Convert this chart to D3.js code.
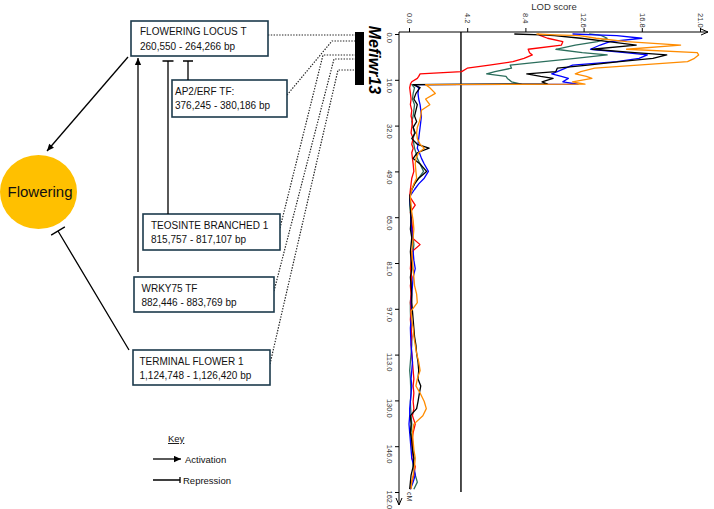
<!DOCTYPE html>
<html>
<head>
<meta charset="utf-8">
<script src="https://cdnjs.cloudflare.com/ajax/libs/d3/7.8.5/d3.min.js"></script>
<style>
    body { margin: 0; background: #fff; }
    svg { font-family: "Liberation Sans", Arial, sans-serif; }
</style>
</head>
<body>
<div id="chart"></div>
<script>

// map positions (cM) shared by all traces
var positions = [0, 0.3, 0.6, 1.5, 2.7, 3.9, 5.4, 6.6, 7.4, 8.6, 9.8, 11.0, 12.1, 13.3, 14.1, 15.0, 15.7, 16.9, 17.7, 17.9,
    19, 21, 23, 25, 27, 29, 31, 33, 35, 37, 39, 40.4, 42, 44, 46, 48.6, 51, 53, 55, 57.5,
    60.5, 63, 66, 69, 72, 74.5, 77, 80, 83, 86, 89, 92, 95, 98, 101, 104, 107, 110, 113, 116,
    119, 122, 124.5, 127, 130, 132.5, 135, 138, 141, 144, 147, 150, 153, 156, 158.5, 161];

var lodRed = [9.3, 9.4, 9.5, 10.0, 11.1, 11.0, 8.6, 8.7, 8.9, 8.3, 7.5, 5.8, 4.2, 3.8, 0.8, 0.7, 0.6, 0.2, 0.1, 0.1,
    0.05, 0.1, 0.15, 0.1, 0.2, 0.15, 0.25, 0.2, 0.15, 0.3, 0.2, 0.3, 0.2, 0.25, 0.3, 0.35, 0.2, 0.15, 0.1, 0.05,
    0.45, 0.1, 0.2, 0.25, 0.2, 0.8, 0.2, 0.15, 0.1, 0.2, 0.1, 0.15, 0.1, 0.15, 0.1, 0.15, 0.2, 0.15, 0.2, 0.25,
    0.3, 0.35, 0.3, 0.35, 0.3, 0.35, 0.25, 0.45, 0.3, 0.2, 0.25, 0.2, 0.45, 0.35, 0.2, 0.1];

var lodGreen = [13.0, 13.6, 13.9, 14.3, 13.6, 12.0, 10.6, 12.5, 14.3, 12.0, 9.7, 7.3, 7.4, 6.2, 5.6, 7.0, 7.1, 7.4, 8.1, 0.2,
    0.4, 0.3, 0.25, 0.4, 0.35, 0.3, 0.2, 0.3, 0.4, 0.3, 0.35, 0.4, 0.5, 0.6, 0.8, 1.05, 0.7, 0.4, 0.2, 0.05,
    0.05, 0.1, 0.15, 0.2, 0.3, 0.35, 0.3, 0.25, 0.2, 0.15, 0.2, 0.15, 0.1, 0.1, 0.12, 0.15, 0.2, 0.2, 0.15, 0.1,
    0.05, 0.1, 0.12, 0.15, 0.1, 0.12, 0.15, 0.2, 0.15, 0.25, 0.3, 0.35, 0.3, 0.45, 0.6, 0.35];

var lodBlack = [7.6, 9.5, 10.5, 12.4, 14.4, 16.4, 13.2, 16.3, 18.6, 17.6, 15.2, 12.9, 10.7, 10.6, 8.5, 9.5, 10.4, 9.6, 10.0, 0.3,
    0.8, 0.5, 0.35, 0.6, 0.5, 0.4, 0.55, 0.3, 0.45, 0.2, 0.6, 1.45, 0.6, 0.3, 0.8, 1.27, 0.7, 0.4, 0.2, 0.05,
    0.1, 0.12, 0.15, 0.1, 0.2, 0.15, 0.1, 0.15, 0.2, 0.1, 0.15, 0.2, 0.2, 0.25, 0.3, 0.35, 0.4, 0.5, 0.55, 0.65,
    0.7, 0.65, 0.85, 0.75, 0.65, 0.55, 0.1, 0.15, 0.1, 0.2, 0.25, 0.35, 0.3, 0.15, 0.1, 0.05];

var lodBlue = [11.8, 13.5, 15.0, 16.8, 14.5, 13.8, 13.1, 15.6, 17.2, 16.6, 15.0, 11.8, 11.3, 10.7, 10.3, 11.0, 11.5, 11.1, 12.2, 0.4,
    0.7, 0.65, 0.7, 0.8, 0.85, 0.9, 0.85, 0.8, 0.75, 0.7, 0.65, 0.6, 0.75, 0.9, 1.1, 1.4, 1.1, 0.7, 0.4, 0.05,
    0.1, 0.15, 0.12, 0.2, 0.25, 0.2, 0.3, 0.35, 0.45, 0.3, 0.25, 0.2, 0.15, 0.2, 0.15, 0.1, 0.12, 0.15, 0.2, 0.25,
    0.2, 0.15, 0.2, 0.15, 0.1, 0.05, 0.05, 0.0, 0.05, 0.1, 0.15, 0.2, 0.35, 0.45, 0.3, 0.1];

var lodOrange = [9.2, 10.5, 12.3, 13.5, 15.7, 19.6, 15.7, 20.8, 20.9, 20.6, 20.1, 16.5, 13.4, 12.4, 12.0, 12.8, 13.2, 11.8, 12.7, 1.2,
    1.5, 1.9, 1.2, 1.5, 0.9, 0.85, 0.75, 0.6, 0.55, 0.6, 0.8, 1.1, 0.7, 0.5, 0.45, 0.5, 0.55, 0.35, 0.2, 0.1,
    0.15, 0.2, 0.3, 0.35, 0.3, 0.25, 0.2, 0.25, 0.3, 0.35, 0.4, 0.55, 0.6, 0.15, 0.2, 0.3, 0.35, 0.45, 0.55, 0.7,
    0.8, 0.6, 0.5, 0.8, 1.1, 1.25, 1.0, 0.35, 0.25, 0.3, 0.35, 0.45, 0.4, 0.3, 0.2, 0.15];

var threshold = 3.75;

var lodTicks = [0, 4.2, 8.4, 12.6, 16.8, 21];
var lodTickLabels = ["0.0", "4.2", "8.4", "12.6", "16.8", "21.0"];
var cmTicks = [0, 16.2, 32.4, 48.6, 64.8, 81, 97.2, 113.4, 129.6, 145.8, 162];
var cmTickLabels = ["0.0", "16.0", "32.0", "49.0", "65.0", "81.0", "97.0", "113.0", "130.0", "146.0", "162.0"];

var geneNames = ["FLOWERING LOCUS T", "AP2/ERF TF:", "TEOSINTE BRANCHED 1", "WRKY75 TF", "TERMINAL FLOWER 1"];
var geneRanges = ["260,550 - 264,266 bp", "376,245 - 380,186 bp", "815,757 - 817,107 bp",
    "882,446 - 883,769 bp", "1,124,748 - 1,126,420 bp"];

var series = [
    {name: "green", color: "#2b6e5c", values: lodGreen},
    {name: "red", color: "#ff0000", values: lodRed},
    {name: "blue", color: "#0000ff", values: lodBlue},
    {name: "black", color: "#000000", values: lodBlack},
    {name: "orange", color: "#ff8c00", values: lodOrange}
];

var svg = d3.select("#chart").append("svg")
    .attr("width", 714)
    .attr("height", 509);

svg.append("rect").attr("width", 714).attr("height", 509).attr("fill", "#fff");

var defs = svg.append("defs");
defs.append("marker")
    .attr("id", "arrow")
    .attr("viewBox", "0 0 10 10")
    .attr("refX", 10)
    .attr("refY", 5)
    .attr("markerWidth", 8)
    .attr("markerHeight", 7)
    .attr("markerUnits", "userSpaceOnUse")
    .attr("orient", "auto")
    .append("path")
    .attr("d", "M0,0.5 L10,5 L0,9.5 Z")
    .attr("fill", "#000");

/*
 * LOD plot (rotated: position down, LOD score across)
 */

var x = d3.scaleLinear().domain([0, 21]).range([409, 700]);
var y = d3.scaleLinear().domain([0, 162]).range([34, 492]);

var axisTopY = 32, axisLeftX = 399;

// axis lines with open arrow heads
svg.append("path")
    .attr("d", "M" + axisLeftX + "," + axisTopY + "H708 M701,29 L708,32 L701,35")
    .attr("fill", "none").attr("stroke", "#000").attr("stroke-width", 1);
svg.append("path")
    .attr("d", "M" + axisLeftX + "," + axisTopY + "V505 M396,498 L399,505 L402,498")
    .attr("fill", "none").attr("stroke", "#000").attr("stroke-width", 1);

var xAxis = d3.axisTop(x)
    .tickValues(lodTicks)
    .tickSize(4)
    .tickFormat(function(d, i) { return lodTickLabels[i]; });

var gx = svg.append("g")
    .attr("class", "axis x-axis")
    .attr("transform", "translate(0," + axisTopY + ")")
    .call(xAxis);
gx.select(".domain").remove();
gx.selectAll("text")
    .attr("x", 0).attr("y", 0).attr("dy", "0.35em")
    .attr("text-anchor", "start")
    .attr("transform", "translate(0,-19) rotate(90)")
    .attr("font-size", 7.5)
    .attr("font-family", "Liberation Sans, Arial, sans-serif")
    .attr("fill", "#333");

var yAxis = d3.axisLeft(y)
    .tickValues(cmTicks)
    .tickSize(4)
    .tickFormat(function(d, i) { return cmTickLabels[i]; });

var gy = svg.append("g")
    .attr("class", "axis y-axis")
    .attr("transform", "translate(" + axisLeftX + ",0)")
    .call(yAxis);
gy.select(".domain").remove();
gy.selectAll("text")
    .attr("x", 0).attr("y", 0).attr("dy", "0.35em")
    .attr("text-anchor", "start")
    .attr("transform", "translate(-9,-2) rotate(90)")
    .attr("font-size", 7.5)
    .attr("font-family", "Liberation Sans, Arial, sans-serif")
    .attr("fill", "#333");

svg.append("text")
    .attr("x", 554).attr("y", 10)
    .attr("text-anchor", "middle")
    .attr("font-size", 9.5)
    .attr("fill", "#333")
    .text("LOD score");

svg.append("text")
    .attr("transform", "translate(409,492) rotate(90)")
    .attr("dy", "0.35em")
    .attr("font-size", 7)
    .attr("fill", "#333")
    .text("cM");

// significance threshold
svg.append("line")
    .attr("x1", x(threshold)).attr("x2", x(threshold))
    .attr("y1", axisTopY).attr("y2", y(162))
    .attr("stroke", "#000").attr("stroke-width", 1.4);

var line = d3.line()
    .x(function(d) { return x(d[1]); })
    .y(function(d) { return y(d[0]); });

svg.selectAll(".trace")
    .data(series)
    .enter()
    .append("path")
    .attr("class", "trace")
    .attr("fill", "none")
    .attr("stroke", function(d) { return d.color; })
    .attr("stroke-width", 1.3)
    .attr("stroke-linejoin", "round")
    .attr("d", function(d) {
        return line(positions.map(function(p, i) { return [p, d.values[i]]; }));
    });

// QTL bar and label
svg.append("rect")
    .attr("x", 355).attr("y", 32)
    .attr("width", 9).attr("height", 53)
    .attr("fill", "#000");

svg.append("text")
    .attr("transform", "translate(375,60) rotate(90)")
    .attr("text-anchor", "middle")
    .attr("dy", "0.35em")
    .attr("font-size", 16)
    .attr("font-weight", "bold")
    .attr("font-style", "italic")
    .text("Mefiwr13");

/*
 * Gene boxes and regulation diagram
 */

var boxes = [
    {x: 131, y: 21, w: 137, h: 35, tx: 140, l1: 35, l2: 50},
    {x: 172, y: 80, w: 115, h: 37, tx: 175, l1: 95, l2: 109},
    {x: 143, y: 214, w: 137, h: 36, tx: 151, l1: 228.5, l2: 243},
    {x: 134, y: 277, w: 140, h: 35, tx: 141.5, l1: 292, l2: 305.5},
    {x: 133, y: 350, w: 137, h: 35, tx: 139.5, l1: 364.5, l2: 378.5}
];

// dotted links from genes to the QTL bar
var links = [
    [[268, 35], [355, 35]],
    [[287, 95], [332, 41], [355, 41]],
    [[280, 228], [323, 55], [355, 55]],
    [[274, 291], [334, 59], [355, 59]],
    [[270, 364], [338, 70], [355, 70]]
];

svg.selectAll(".link")
    .data(links)
    .enter()
    .append("path")
    .attr("class", "link")
    .attr("d", d3.line())
    .attr("fill", "none")
    .attr("stroke", "#222")
    .attr("stroke-width", 1.2)
    .attr("stroke-dasharray", "1.4,1.4");

var box = svg.selectAll(".gene")
    .data(boxes)
    .enter()
    .append("g")
    .attr("class", "gene");

box.append("rect")
    .attr("x", function(d) { return d.x; })
    .attr("y", function(d) { return d.y; })
    .attr("width", function(d) { return d.w; })
    .attr("height", function(d) { return d.h; })
    .attr("fill", "#fff")
    .attr("stroke", "#1c3a4c")
    .attr("stroke-width", 1.6);

box.append("text")
    .attr("x", function(d) { return d.tx; })
    .attr("y", function(d) { return d.l1; })
    .attr("font-size", 10)
    .attr("fill", "#111")
    .text(function(d, i) { return geneNames[i]; });

box.append("text")
    .attr("x", function(d) { return d.tx; })
    .attr("y", function(d) { return d.l2; })
    .attr("font-size", 10)
    .attr("fill", "#111")
    .text(function(d, i) { return geneRanges[i]; });

// Flowering node
svg.append("ellipse")
    .attr("cx", 38.5).attr("cy", 192)
    .attr("rx", 38.5).attr("ry", 37)
    .attr("fill", "#ffc000");

svg.append("text")
    .attr("x", 40).attr("y", 192)
    .attr("dy", "0.35em")
    .attr("text-anchor", "middle")
    .attr("font-size", 15)
    .attr("fill", "#111")
    .text("Flowering");

function arrow(x1, y1, x2, y2) {
    svg.append("line")
        .attr("x1", x1).attr("y1", y1).attr("x2", x2).attr("y2", y2)
        .attr("stroke", "#000").attr("stroke-width", 1.3)
        .attr("marker-end", "url(#arrow)");
}

function repress(x1, y1, x2, y2, half) {
    var dx = x2 - x1, dy = y2 - y1, len = Math.sqrt(dx * dx + dy * dy);
    var px = -dy / len * half, py = dx / len * half;
    svg.append("path")
        .attr("d", "M" + x1 + "," + y1 + "L" + x2 + "," + y2 +
            "M" + (x2 - px) + "," + (y2 - py) + "L" + (x2 + px) + "," + (y2 + py))
        .attr("fill", "none")
        .attr("stroke", "#000").attr("stroke-width", 1.3);
}

arrow(128, 57, 47, 151);           // FT -> flowering
repress(129, 350, 58, 231, 8);     // TFL1 -| flowering
arrow(138, 272, 138, 58);          // WRKY75 -> FT
repress(168, 214, 168, 61, 5.5);   // TB1 -| FT
repress(188, 80, 188, 61, 5);      // AP2/ERF -| FT

// key
svg.append("text")
    .attr("x", 168).attr("y", 442)
    .attr("font-size", 9.5)
    .attr("text-decoration", "underline")
    .attr("fill", "#111")
    .text("Key");

arrow(153, 459, 181, 459);
svg.append("text")
    .attr("x", 185).attr("y", 462.5)
    .attr("font-size", 9.5)
    .attr("fill", "#111")
    .text("Activation");

repress(153, 480, 180, 480, 3);
svg.append("text")
    .attr("x", 183).attr("y", 483.5)
    .attr("font-size", 9.5)
    .attr("fill", "#111")
    .text("Repression");

</script>
</body>
</html>
